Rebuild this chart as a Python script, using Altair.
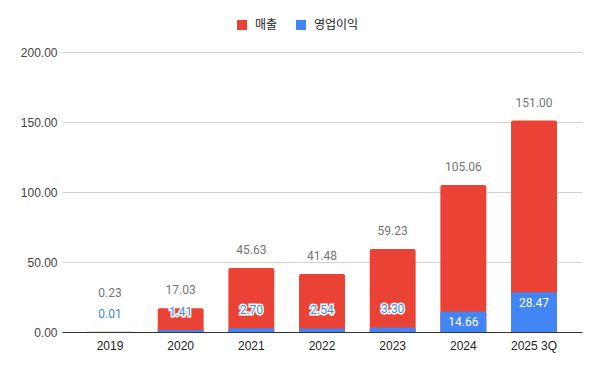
import altair as alt
import pandas as pd

years = ["2019", "2020", "2021", "2022", "2023", "2024", "2025 3Q"]
revenue = [0.23, 17.03, 45.63, 41.48, 59.23, 105.06, 151.00]
op_profit = [0.01, 1.41, 2.70, 2.54, 3.30, 14.66, 28.47]
series_names = ["매출", "영업이익"]
series_colors = ["#EA4335", "#4285F4"]

rows = []
for y, r in zip(years, revenue):
    rows.append({"year": y, "series": series_names[0], "value": r})
for y, o in zip(years, op_profit):
    rows.append({"year": y, "series": series_names[1], "value": o})
df = pd.DataFrame(rows)

x_enc = alt.X("year:N", sort=years,
              scale=alt.Scale(paddingInner=0.35, paddingOuter=0.354),
              axis=alt.Axis(title=None, labelAngle=0, ticks=False, labelPadding=8,
                            labelFontSize=12, labelColor="#222222", labelFont="Liberation Sans",
                            domainColor="#333333", grid=False))
y_enc = alt.Y("value:Q", scale=alt.Scale(domain=[0, 200], nice=False),
              axis=alt.Axis(title=None, values=[0, 50, 100, 150, 200], format=".2f",
                            ticks=False, domain=False, labelPadding=5,
                            labelFontSize=12, labelColor="#444444", labelFont="Liberation Sans",
                            gridColor="#d0d0d0"))

base = alt.Chart(df)

bars = base.mark_bar(cornerRadiusTopLeft=2, cornerRadiusTopRight=2).encode(
    x=x_enc,
    y=alt.Y("value:Q", stack=None, scale=alt.Scale(domain=[0, 200], nice=False),
            axis=alt.Axis(title=None, values=[0, 50, 100, 150, 200], format=".2f",
                          ticks=False, domain=False, labelPadding=5,
                          labelFontSize=12, labelColor="#444444", labelFont="Liberation Sans",
                          gridColor="#d0d0d0")),
    color=alt.Color("series:N", sort=series_names,
                    scale=alt.Scale(domain=series_names, range=series_colors),
                    legend=alt.Legend(title=None, orient="none", direction="horizontal",
                                      legendX=174, legendY=-33, symbolType="square",
                                      symbolSize=100, symbolStrokeWidth=0,
                                      labelFontSize=12, labelColor="#222222",
                                      labelFont="Noto Sans CJK KR", labelOffset=7,
                                      columnPadding=17, padding=0)),
    order=alt.Order("series:N"),
)

rev_text_kw = dict(font="Roboto", fontSize=12, color="#757575", baseline="alphabetic")
rev_labels = base.transform_filter(
    (alt.datum.series == series_names[0]) & (alt.datum.year != years[0])
).mark_text(dy=-14, **rev_text_kw).encode(
    x=alt.X("year:N", sort=years), y=alt.Y("value:Q", stack=None),
    text=alt.Text("value:Q", format=".2f"))
rev_label_first = base.transform_filter(
    (alt.datum.series == series_names[0]) & (alt.datum.year == years[0])
).mark_text(dy=-35, **rev_text_kw).encode(
    x=alt.X("year:N", sort=years), y=alt.Y("value:Q", stack=None),
    text=alt.Text("value:Q", format=".2f"))

small_op = base.transform_filter(
    (alt.datum.series == series_names[1]) & (alt.datum.value < 10))
op_halo = small_op.mark_text(dy=-14, font="Roboto", fontSize=12, baseline="alphabetic",
                             color="white", stroke="white", strokeWidth=3).encode(
    x=alt.X("year:N", sort=years), y=alt.Y("value:Q", stack=None),
    text=alt.Text("value:Q", format=".2f"))
op_small_labels = small_op.mark_text(dy=-14, font="Roboto", fontSize=12, baseline="alphabetic",
                                     color="#4285F4").encode(
    x=alt.X("year:N", sort=years), y=alt.Y("value:Q", stack=None),
    text=alt.Text("value:Q", format=".2f"))

op_big_labels = base.transform_filter(
    (alt.datum.series == series_names[1]) & (alt.datum.value >= 10)
).mark_text(dy=6, font="Roboto", fontSize=12, baseline="top", color="white").encode(
    x=alt.X("year:N", sort=years), y=alt.Y("value:Q", stack=None),
    text=alt.Text("value:Q", format=".2f"))

chart = alt.layer(
    bars, rev_labels, rev_label_first, op_halo, op_small_labels, op_big_labels
).properties(
    width=520, height=280,
    autosize=alt.AutoSizeParams(type="none"),
    padding={"left": 54, "top": 44, "right": 10, "bottom": 30},
).configure_view(stroke=None)

chart.save("out.html", embed_options={"renderer": "svg", "actions": False})
